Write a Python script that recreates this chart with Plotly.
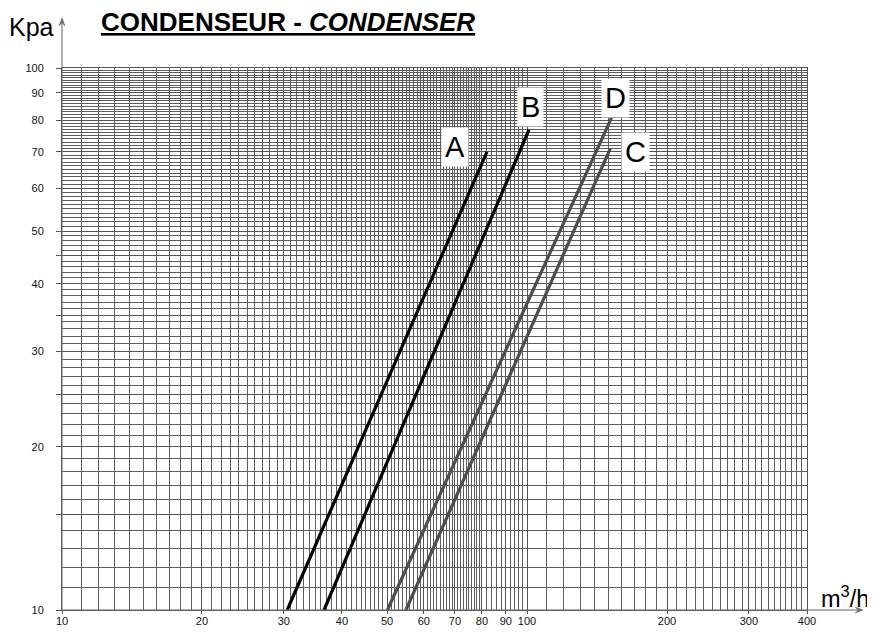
import math
import plotly.graph_objects as go

# ---- data ----
flow_A = [30.5, 82.0]
kpa_A = [10.0, 70.0]
flow_B = [36.6, 101.0]
kpa_B = [10.0, 77.0]
flow_C = [54.9, 151.0]
kpa_C = [10.0, 71.0]
flow_D = [50.1, 152.0]
kpa_D = [10.0, 81.0]

curve_names = ["A", "B", "C", "D"]
label_x = [70.0, 101.5, 170.8, 155.2]
label_y = [71.4, 84.7, 70.0, 88.0]

x_tick_vals = [10, 20, 30, 40, 50, 60, 70, 80, 90, 100, 200, 300, 400]
x_tick_text = ["10", "20", "30", "40", "50", "60", "70", "80", "90", "100", "200", "300", "400"]
y_tick_vals = [10, 15, 20, 25, 30, 35, 40, 45, 50, 60, 70, 80, 90, 100]
y_tick_text = ["10", "", "20", "", "30", "", "40", "", "50", "60", "70", "80", "90", "100"]
x_grid_vals = list(range(11, 80)) + list(range(80, 100, 2)) + list(range(110, 400, 10))
y_grid_vals = list(range(11, 100))

GRID = "#555555"
GRID_MINOR = "#5e5e5e"
ARROW = "#666666"
FONT = "Liberation Sans, Arial, sans-serif"

# page body has an 8px margin: figure is sized so the plot lands on the reference geometry
W, H = 867, 625
plot_w, plot_h = 745, 542   # plot area in page px: x 62..807, y 68..610

fig = go.Figure()
series = [(flow_A, kpa_A, "#000000"), (flow_B, kpa_B, "#000000"),
          (flow_C, kpa_C, "#4d4d4d"), (flow_D, kpa_D, "#4d4d4d")]
for (xs, ys, col), name in zip(series, curve_names):
    fig.add_trace(go.Scatter(x=xs, y=ys, mode="lines", name=name,
                             line=dict(color=col, width=3.2), showlegend=False,
                             hoverinfo="skip"))

for name, lx, ly in zip(curve_names, label_x, label_y):
    fig.add_annotation(x=math.log10(lx), y=math.log10(ly), xref="x", yref="y",
                       text=name, showarrow=False,
                       font=dict(family=FONT, size=29, color="black"),
                       bgcolor="white", borderpad=3)

axis_common = dict(type="log", showgrid=True, gridcolor=GRID, gridwidth=1,
                   showline=True, mirror=True, linecolor=GRID, linewidth=1,
                   ticks="outside", tickcolor=GRID,
                   tickfont=dict(family=FONT, size=11, color="#111"),
                   zeroline=False, fixedrange=True, automargin=False)

fig.update_xaxes(**axis_common, range=[1, math.log10(400)], ticklen=3,
                 ticklabelstandoff=-2,
                 tickmode="array", tickvals=x_tick_vals, ticktext=x_tick_text,
                 minor=dict(tickmode="array", tickvals=x_grid_vals, showgrid=True,
                            gridcolor=GRID_MINOR, gridwidth=1, ticks=""))
fig.update_yaxes(**axis_common, range=[1, 2], ticklen=5,
                 tickmode="array", tickvals=y_tick_vals, ticktext=y_tick_text,
                 ticklabelstandoff=10,
                 minor=dict(tickmode="array", tickvals=y_grid_vals, showgrid=True,
                            gridcolor=GRID_MINOR, gridwidth=1, ticks=""))

# axis arrows (paper coordinates)
y_tip = (610 - 18) / plot_h
x_tip = (863 - 62) / plot_w
hw_x, hl_y = 3 / plot_w, 8 / plot_h      # y-arrow head half width / length
hw_y, hl_x = 3 / plot_h, 8 / plot_w      # x-arrow head half width / length
fig.add_shape(type="line", xref="paper", yref="paper", x0=0, x1=0, y0=0, y1=y_tip - hl_y / 2,
              line=dict(color=ARROW, width=1))
fig.add_shape(type="line", xref="paper", yref="paper", x0=0, x1=x_tip - hl_x / 2, y0=0, y1=0,
              line=dict(color=ARROW, width=1))
fig.add_shape(type="path", xref="paper", yref="paper",
              path=f"M 0 {y_tip} L {-hw_x} {y_tip - hl_y} L 0 {y_tip - hl_y * 0.6} "
                   f"L {hw_x} {y_tip - hl_y} Z",
              fillcolor=ARROW, line=dict(color=ARROW, width=0.5))
fig.add_shape(type="path", xref="paper", yref="paper",
              path=f"M {x_tip} 0 L {x_tip - hl_x} {hw_y} L {x_tip - hl_x * 0.6} 0 "
                   f"L {x_tip - hl_x} {-hw_y} Z",
              fillcolor=ARROW, line=dict(color=ARROW, width=0.5))

# titles
fig.add_annotation(xref="paper", yref="paper", x=(99 - 62) / plot_w, y=(610 - 22) / plot_h,
                   xanchor="left", yanchor="middle", showarrow=False,
                   text="<u><b>CONDENSEUR - <i>CONDENSER</i></b></u>",
                   font=dict(family=FONT, size=26, color="black"))
fig.add_annotation(xref="paper", yref="paper", x=(7 - 62) / plot_w, y=(610 - 27) / plot_h,
                   xanchor="left", yanchor="middle", showarrow=False, text="Kpa",
                   font=dict(family=FONT, size=25, color="black"))
fig.add_annotation(xref="paper", yref="paper", x=(819 - 62) / plot_w, y=(610 - 597) / plot_h,
                   xanchor="left", yanchor="middle", showarrow=False, text="m<sup>3</sup>/h",
                   font=dict(family=FONT, size=23.5, color="black"))

fig.update_layout(width=W, height=H,
                  margin=dict(l=54, t=60, r=W - 54 - plot_w, b=H - 60 - plot_h),
                  paper_bgcolor="white", plot_bgcolor="white", showlegend=False)

fig.write_html("out.html")
